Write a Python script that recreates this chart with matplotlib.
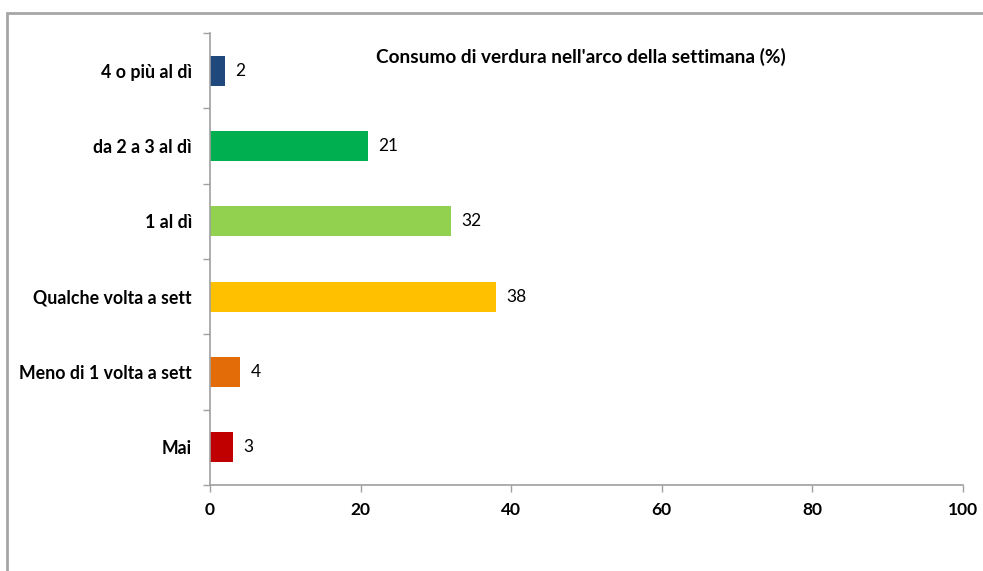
import matplotlib.pyplot as plt
from matplotlib.patches import Rectangle

plt.rcParams['font.family'] = ['Lato', 'DejaVu Sans']

categories = ['4 o più al dì', 'da 2 a 3 al dì', '1 al dì',
              'Qualche volta a sett', 'Meno di 1 volta a sett', 'Mai']
values = [2, 21, 32, 38, 4, 3]
colors = ['#1F497D', '#00B050', '#92D050', '#FFC000', '#E36C09', '#C00000']
xticks = [0, 20, 40, 60, 80, 100]
title = "Consumo di verdura nell'arco della settimana (%)"

fig = plt.figure(figsize=(9.83, 5.71), dpi=100)
ax = fig.add_axes([210 / 983, 1 - 485 / 571, 753 / 983, 452 / 571])

# grey frame round the chart (right and bottom edges cut off)
fig.patches.append(Rectangle((7 / 983, -0.1), 1.2, 1 - 13 / 571 + 0.1,
                             transform=fig.transFigure, fill=False,
                             edgecolor='#A6A6A6', linewidth=2))

pos = list(range(len(categories)))[::-1]
ax.barh(pos, values, height=0.4, color=colors)
for p, v in zip(pos, values):
    ax.text(v + 1.4, p, str(v), va='center', ha='left', fontsize=12.5)

ax.set_xlim(0, 100)
ax.set_ylim(-0.5, len(categories) - 0.5)
ax.set_xticks(xticks)
ax.set_xticklabels([str(t) for t in xticks], fontsize=12.5, fontweight='bold')
ax.set_yticks(pos)
ax.set_yticklabels(categories, fontsize=12.8, fontweight='bold')
ax.set_yticks([i - 0.5 for i in range(len(categories) + 1)], minor=True)
ax.tick_params(axis='y', which='major', length=0, pad=13)
ax.tick_params(axis='y', which='minor', length=5, color='#A0A0A0', width=1)
ax.tick_params(axis='x', length=5, color='#A0A0A0', width=1, pad=7)

for s in ['top', 'right']:
    ax.spines[s].set_visible(False)
for s in ['left', 'bottom']:
    ax.spines[s].set_color('#A0A0A0')
    ax.spines[s].set_linewidth(1.2)

fig.text(581 / 983, 1 - 57 / 571, title, ha='center', va='center',
         fontsize=13.7, fontweight='bold')

fig.savefig('out.png', dpi=100)
